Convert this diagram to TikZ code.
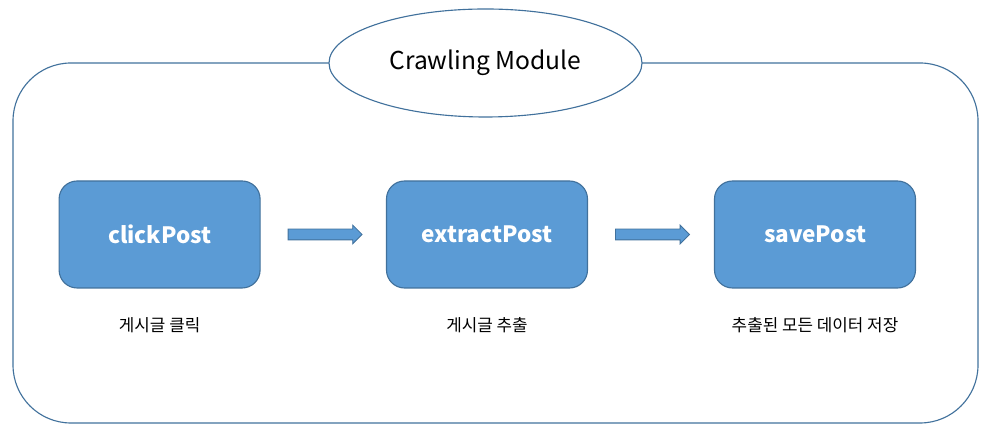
\documentclass[tikz,border=0pt]{standalone}
\usepackage{fontspec}
\setmainfont{Noto Sans CJK KR}
\usepackage{tikz}
\usetikzlibrary{positioning}
\usetikzlibrary{shapes.geometric}
\usetikzlibrary{shapes.arrows}
\definecolor{stepColor}{HTML}{5B9BD5}
\definecolor{edgeColor}{HTML}{41719C}
\tikzset{
  stepbox/.style={draw=edgeColor, fill=stepColor, line width=0.8pt, rounded corners=0.45cm,
    minimum width=5.025cm, minimum height=2.675cm, text=white, font=\fontsize{16}{19}\selectfont\bfseries},
  flowarrow/.style={single arrow, draw=edgeColor, fill=stepColor, line width=0.6pt,
    inner xsep=0pt, inner ysep=0.125cm, minimum height=1.85cm, single arrow head extend=0.1cm},
  steptext/.style={font=\fontsize{12}{14}\selectfont}
}

\begin{document}
\begin{tikzpicture}
  \useasboundingbox (0,0) rectangle (24.825,10.775);
  \node[draw=edgeColor, line width=0.8pt, rounded corners=1.45cm, minimum width=24.125cm, minimum height=9cm] (frame) at (12.3875,4.7) {};
  \node[draw=edgeColor, fill=white, line width=0.8pt, ellipse, inner sep=0pt, minimum width=7.825cm, minimum height=2.7cm, font=\fontsize{17.5}{21}\selectfont] (title) at (12.1375,9.2) {Crawling Module};

  \node[stepbox] (click) at (3.99,4.9125) {clickPost};
  \node[stepbox] (extract) at (12.175,4.9125) {extractPost};
  \node[stepbox] (save) at (20.375,4.9125) {savePost};

  \node[flowarrow, right=0.675cm of click] (arrowA) {};
  \node[flowarrow, right=0.675cm of extract] (arrowB) {};

  \node[steptext] (clicktxt) at ([yshift=-0.925cm]click.south) {게시글 클릭};
  \node[steptext] (extracttxt) at ([yshift=-0.925cm]extract.south) {게시글 추출};
  \node[steptext] (savetxt) at ([yshift=-0.925cm]save.south) {추출된 모든 데이터 저장};
\end{tikzpicture}
\end{document}
